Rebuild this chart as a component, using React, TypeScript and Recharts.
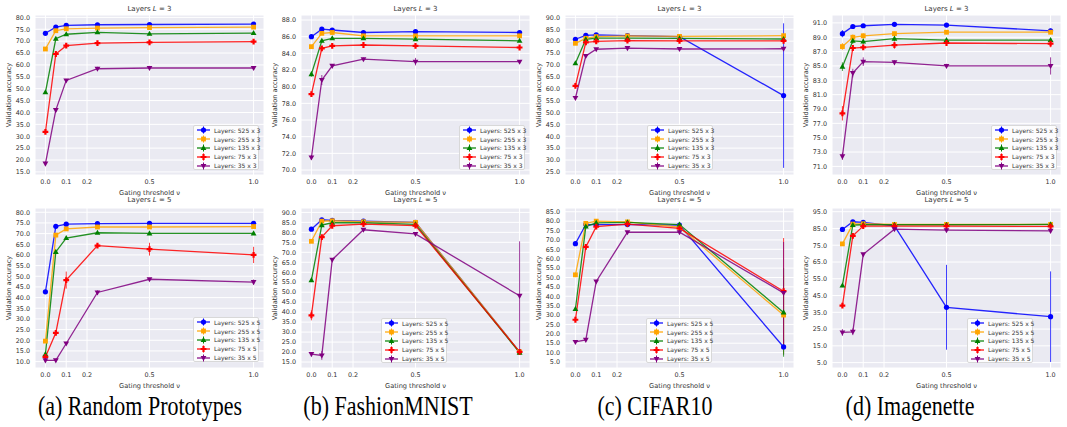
import React from "react";
import {
  LineChart,
  Line,
  XAxis,
  YAxis,
  CartesianGrid,
  ErrorBar,
  Legend,
} from "recharts";

// gating thresholds used on every panel
const xs = [0.0, 0.05, 0.1, 0.25, 0.5, 1.0];
const xTicks = [0, 0.1, 0.2, 0.5, 1.0];
const widths = ["525", "255", "135", "75", "35"];
const colors = ["#0000ff", "#ffa500", "#008000", "#ff0000", "#800080"];
const shapes = ["circle", "square", "up", "plus", "down"];

// (a) Random Prototypes, L = 3
const rp3 = [
  [73.3, 75.9, 76.6, 76.9, 77.0, 77.2],
  [66.7, 74.4, 75.2, 75.5, 75.7, 75.9],
  [48.5, 71.0, 72.9, 73.7, 73.1, 73.4],
  [31.8, 64.6, 68.1, 69.2, 69.5, 69.8],
  [18.5, 41.0, 53.5, 58.4, 58.7, 58.7],
];
const rp3Err = [
  [0.4, 0.3, 0.3, 0.3, 0.3, 0.3],
  [0.6, 0.4, 0.3, 0.3, 0.3, 0.3],
  [0.6, 0.5, 0.4, 0.5, 0.4, 0.4],
  [0.8, 0.6, 0.5, 0.6, 0.5, 0.5],
  [0.8, 0.7, 0.6, 0.8, 0.9, 0.6],
];
const rp3Ticks = [15, 20, 25, 30, 35, 40, 45, 50, 55, 60, 65, 70, 75, 80];

// (b) FashionMNIST, L = 3
const fm3 = [
  [86.0, 86.9, 86.8, 86.5, 86.6, 86.5],
  [84.8, 86.4, 86.5, 86.1, 86.1, 86.1],
  [81.5, 85.5, 85.8, 85.8, 85.7, 85.5],
  [79.1, 84.6, 84.9, 85.0, 84.9, 84.7],
  [71.5, 80.8, 82.5, 83.3, 83.0, 83.0],
];
const fm3Err = [
  [0.1, 0.1, 0.1, 0.1, 0.1, 0.1],
  [0.15, 0.15, 0.1, 0.1, 0.1, 0.1],
  [0.3, 0.2, 0.1, 0.1, 0.1, 0.1],
  [0.2, 0.15, 0.1, 0.15, 0.1, 0.1],
  [0.3, 0.6, 0.2, 0.2, 0.45, 0.2],
];
const fm3Ticks = [70, 72, 74, 76, 78, 80, 82, 84, 86, 88];

// (c) CIFAR10, L = 3
const c3 = [
  [80.8, 82.4, 82.6, 82.3, 81.9, 57.1],
  [79.1, 81.2, 81.9, 82.2, 82.0, 82.3],
  [70.7, 80.8, 81.3, 81.3, 81.2, 80.9],
  [61.2, 79.5, 79.9, 80.2, 80.1, 80.1],
  [56.1, 73.8, 76.6, 77.1, 76.7, 76.8],
];
const c3Err = [
  [0.3, 0.3, 0.3, 0.3, 0.3, 30.4],
  [0.4, 0.4, 0.3, 0.3, 0.3, 0.3],
  [0.4, 0.4, 0.3, 0.3, 0.3, 0.3],
  [0.5, 0.4, 0.4, 0.3, 0.3, 0.3],
  [0.5, 0.5, 0.4, 0.4, 0.4, 0.4],
];
const c3Ticks = [25, 30, 35, 40, 45, 50, 55, 60, 65, 70, 75, 80, 85, 90];

// (d) Imagenette, L = 3
const im3 = [
  [89.5, 90.5, 90.6, 90.8, 90.7, 89.9],
  [87.7, 89.0, 89.2, 89.5, 89.7, 89.7],
  [84.9, 88.5, 88.4, 88.8, 88.6, 88.6],
  [78.4, 87.5, 87.6, 87.9, 88.2, 88.1],
  [72.4, 84.0, 85.6, 85.5, 85.0, 85.0],
];
const im3Err = [
  [0.5, 0.2, 0.2, 0.2, 0.2, 0.3],
  [0.5, 0.4, 0.4, 0.3, 0.3, 0.3],
  [0.6, 0.4, 0.4, 0.3, 0.3, 0.3],
  [1.0, 0.3, 0.3, 0.5, 0.4, 0.5],
  [0.5, 0.6, 0.6, 0.3, 0.3, 1.2],
];
const im3Ticks = [71, 73, 75, 77, 79, 81, 83, 85, 87, 89, 91];

// (a) Random Prototypes, L = 5
const rp5 = [
  [42.7, 73.4, 74.4, 74.7, 74.8, 74.8],
  [19.6, 69.3, 72.2, 73.1, 73.1, 73.3],
  [13.5, 61.4, 67.9, 70.4, 70.1, 70.1],
  [12.2, 23.5, 48.2, 64.4, 62.7, 60.0],
  [10.6, 10.6, 18.5, 42.4, 48.6, 47.3],
];
const rp5Err = [
  [0.5, 0.4, 0.3, 0.3, 0.3, 0.3],
  [0.6, 0.5, 0.4, 0.3, 0.3, 0.3],
  [0.6, 0.6, 0.5, 0.4, 0.4, 0.4],
  [0.6, 0.8, 4.0, 0.8, 3.0, 3.8],
  [0.4, 0.4, 0.6, 1.0, 0.6, 1.2],
];
const rp5Ticks = [10, 15, 20, 25, 30, 35, 40, 45, 50, 55, 60, 65, 70, 75, 80];

// (b) FashionMNIST, L = 5
const fm5 = [
  [81.6, 86.3, 86.0, 85.6, 85.0, 20.1],
  [75.5, 85.6, 85.8, 85.3, 85.0, 20.1],
  [56.0, 83.6, 84.8, 84.8, 84.0, 19.7],
  [38.4, 77.6, 83.3, 84.1, 83.4, 20.1],
  [19.0, 18.3, 66.3, 81.3, 79.2, 48.2],
];
const fm5Err = [
  [0.3, 0.2, 0.2, 0.2, 0.2, 0.3],
  [0.5, 0.3, 0.2, 0.2, 0.2, 0.3],
  [0.8, 0.4, 0.3, 0.3, 0.3, 0.3],
  [2.5, 0.8, 0.5, 0.4, 0.5, 0.3],
  [0.5, 2.2, 0.5, 0.5, 0.5, 27.3],
];
const fm5Ticks = [15, 20, 25, 30, 35, 40, 45, 50, 55, 60, 65, 70, 75, 80, 85, 90];

// (c) CIFAR10, L = 5
const c5 = [
  [68.0, 78.2, 78.2, 78.2, 77.9, 13.0],
  [51.4, 78.8, 80.0, 79.6, 76.8, 30.0],
  [33.2, 77.1, 79.1, 79.3, 78.2, 31.4],
  [27.5, 66.3, 77.1, 78.4, 76.1, 42.7],
  [15.7, 16.8, 47.9, 74.1, 74.1, 41.8],
];
const c5Err = [
  [0.5, 0.4, 0.4, 0.4, 0.4, 4.0],
  [0.6, 0.4, 0.4, 0.4, 0.5, 21.0],
  [0.8, 0.5, 0.4, 0.4, 0.5, 23.6],
  [1.0, 0.8, 0.5, 0.5, 0.5, 28.3],
  [0.6, 0.6, 0.8, 0.5, 0.5, 27.1],
];
const c5Ticks = [5, 10, 15, 20, 25, 30, 35, 40, 45, 50, 55, 60, 65, 70, 75, 80, 85];

// (d) Imagenette, L = 5
const im5 = [
  [84.4, 89.0, 88.6, 86.6, 38.0, 32.4],
  [75.8, 87.6, 87.8, 87.4, 87.4, 87.4],
  [51.0, 87.0, 87.2, 87.2, 87.2, 87.4],
  [39.0, 80.6, 86.4, 86.4, 86.4, 86.2],
  [23.0, 23.4, 69.6, 84.6, 84.0, 83.6],
];
const im5Err = [
  [0.8, 0.4, 0.4, 0.5, 25.3, 27.0],
  [0.8, 0.4, 0.4, 0.3, 0.3, 0.3],
  [1.0, 0.5, 0.4, 0.3, 0.3, 0.3],
  [1.0, 0.8, 0.5, 0.4, 0.4, 0.4],
  [2.0, 2.0, 0.8, 0.5, 0.6, 0.8],
];
const im5Ticks = [5, 15, 25, 35, 45, 55, 65, 75, 85, 95];

const captions = ["(a) Random Prototypes", "(b) FashionMNIST", "(c) CIFAR10", "(d) Imagenette"];

const colLeft = [0, 266, 530, 797];
const rowTop = [0, 193];
const titleTop = [4, 195];
const captionX = [140, 388, 655, 910];

const panels = [
  { vals: rp3, errs: rp3Err, ticks: rp3Ticks, dom: [13.7, 81.0], L: 3, col: 0, row: 0, lx: 193, ly: 125 },
  { vals: fm3, errs: fm3Err, ticks: fm3Ticks, dom: [69.4, 88.6], L: 3, col: 1, row: 0, lx: 193, ly: 125 },
  { vals: c3, errs: c3Err, ticks: c3Ticks, dom: [23.7, 91.0], L: 3, col: 2, row: 0, lx: 117, ly: 125 },
  { vals: im3, errs: im3Err, ticks: im3Ticks, dom: [69.8, 92.1], L: 3, col: 3, row: 0, lx: 194, ly: 125 },
  { vals: rp5, errs: rp5Err, ticks: rp5Ticks, dom: [7.0, 82.0], L: 5, col: 0, row: 1, lx: 193, ly: 124 },
  { vals: fm5, errs: fm5Err, ticks: fm5Ticks, dom: [12.0, 92.2], L: 5, col: 1, row: 1, lx: 115, ly: 125 },
  { vals: c5, errs: c5Err, ticks: c5Ticks, dom: [1.8, 87.0], L: 5, col: 2, row: 1, lx: 116, ly: 125 },
  { vals: im5, errs: im5Err, ticks: im5Ticks, dom: [1.8, 97.2], L: 5, col: 3, row: 1, lx: 170, ly: 125 },
];

const FONT = '"DejaVu Sans", sans-serif';
const TXT = "#333";

function Marker({ shape, cx, cy, color }: { shape: string; cx: number; cy: number; color: string }) {
  if (shape === "circle") return <circle cx={cx} cy={cy} r={2.6} fill={color} />;
  if (shape === "square") return <rect x={cx - 2.4} y={cy - 2.4} width={4.8} height={4.8} fill={color} />;
  if (shape === "up")
    return <polygon points={`${cx},${cy - 3.1} ${cx - 2.9},${cy + 2} ${cx + 2.9},${cy + 2}`} fill={color} />;
  if (shape === "down")
    return <polygon points={`${cx},${cy + 3.1} ${cx - 2.9},${cy - 2} ${cx + 2.9},${cy - 2}`} fill={color} />;
  const a = 2.9, t = 1.1;
  const pts = [
    [-t, -a], [t, -a], [t, -t], [a, -t], [a, t], [t, t],
    [t, a], [-t, a], [-t, t], [-a, t], [-a, -t], [-t, -t],
  ]
    .map(([dx, dy]) => `${cx + dx},${cy + dy}`)
    .join(" ");
  return <polygon points={pts} fill={color} />;
}

function LegendBox({ L }: { L: number }) {
  return (
    <div
      style={{
        width: 66,
        height: 45,
        boxSizing: "border-box",
        background: "rgba(255,255,255,0.85)",
        border: "1px solid #d8d8d8",
        borderRadius: 2,
        padding: "0 0 0 2px",
        fontFamily: FONT,
        fontSize: 6,
        color: TXT,
      }}
    >
      {widths.map((w, k) => (
        <div key={w} style={{ display: "flex", alignItems: "center", height: 8.8 }}>
          <svg width={15} height={8} style={{ flex: "none" }}>
            <line x1={1} y1={4} x2={14} y2={4} stroke={colors[k]} strokeWidth={1.2} />
            <line x1={7.5} y1={0.5} x2={7.5} y2={7.5} stroke={colors[k]} strokeWidth={1} />
            <Marker shape={shapes[k]} cx={7.5} cy={4} color={colors[k]} />
          </svg>
          <span style={{ marginLeft: 3, whiteSpace: "nowrap" }}>{`Layers: ${w} x ${L}`}</span>
        </div>
      ))}
    </div>
  );
}

function Panel(p: (typeof panels)[number]) {
  const rows = xs.map((x, i) => {
    const r: Record<string, number> = { x };
    p.vals.forEach((s, k) => {
      r["v" + k] = s[i];
      r["e" + k] = p.errs[k][i];
    });
    return r;
  });
  return (
    <div style={{ position: "absolute", left: colLeft[p.col], top: rowTop[p.row], width: 266, height: 205 }}>
      <LineChart width={266} height={205} data={rows} margin={{ top: 15, right: 2, bottom: 0, left: 0 }}>
        <CartesianGrid fill="#eaeaf2" stroke="#ffffff" strokeWidth={1} />
        <XAxis
          dataKey="x"
          type="number"
          domain={[-0.05, 1.05]}
          ticks={xTicks}
          interval={0}
          allowDataOverflow
          axisLine={false}
          tickLine={false}
          tickSize={3}
          tickMargin={1}
          height={30}
          tick={{ fontSize: 6.4, fill: TXT, fontFamily: FONT }}
          tickFormatter={(v: number) => v.toFixed(1)}
          label={{ value: "Gating threshold ν", position: "insideBottom", offset: 10, fontSize: 6.6, fill: TXT, fontFamily: FONT }}
        />
        <YAxis
          type="number"
          domain={p.dom}
          ticks={p.ticks}
          interval={0}
          allowDataOverflow
          width={35}
          axisLine={false}
          tickLine={false}
          tickSize={3}
          tickMargin={2}
          tick={{ fontSize: 6.4, fill: TXT, fontFamily: FONT }}
          tickFormatter={(v: number) => v.toFixed(1)}
          label={{
            value: "Validation accuracy",
            angle: -90,
            position: "insideLeft",
            offset: 9,
            fontSize: 6.6,
            fill: TXT,
            fontFamily: FONT,
            style: { textAnchor: "middle" },
          }}
        />
        {widths.map((w, k) => (
          <Line
            key={w}
            dataKey={"v" + k}
            name={`Layers: ${w} x ${p.L}`}
            type="linear"
            stroke={colors[k]}
            strokeWidth={1.3}
            strokeOpacity={0.85}
            isAnimationActive={false}
            activeDot={false}
            dot={(d: any) =>
              d.cx == null || d.cy == null ? (
                <g key={d.index} />
              ) : (
                <Marker key={d.index} shape={shapes[k]} cx={d.cx} cy={d.cy} color={colors[k]} />
              )
            }
          >
            <ErrorBar
              dataKey={"e" + k}
              direction="y"
              width={0}
              stroke={colors[k]}
              strokeWidth={1}
              strokeOpacity={0.75}
              isAnimationActive={false}
            />
          </Line>
        ))}
        <Legend
          layout="vertical"
          align="center"
          verticalAlign="middle"
          content={() => <LegendBox L={p.L} />}
          wrapperStyle={{ left: p.lx, top: p.ly, width: 66, height: 45 }}
        />
      </LineChart>
    </div>
  );
}

export default function App() {
  return (
    <div
      style={{
        position: "absolute",
        left: 0,
        top: 0,
        width: 1067,
        height: 427,
        background: "#ffffff",
        overflow: "hidden",
      }}
    >
      {panels.map((p, i) => (
        <Panel key={i} {...p} />
      ))}
      {panels.map((p, i) => (
        <div
          key={"t" + i}
          style={{
            position: "absolute",
            zIndex: 2,
            left: colLeft[p.col] + 35,
            width: 229,
            top: titleTop[p.row],
            textAlign: "center",
            fontFamily: FONT,
            fontSize: 7,
            color: TXT,
            lineHeight: "10px",
          }}
        >
          Layers <i>L</i> = {p.L}
        </div>
      ))}
      {captions.map((c, i) => (
        <div
          key={c}
          style={{
            position: "absolute",
            left: captionX[i] - 150,
            width: 300,
            top: 395,
            textAlign: "center",
            fontFamily: '"Liberation Serif", "Times New Roman", serif',
            fontSize: 22,
            lineHeight: "24px",
            color: "#000",
            transform: "scaleY(1.2)",
          }}
        >
          {c}
        </div>
      ))}
    </div>
  );
}
